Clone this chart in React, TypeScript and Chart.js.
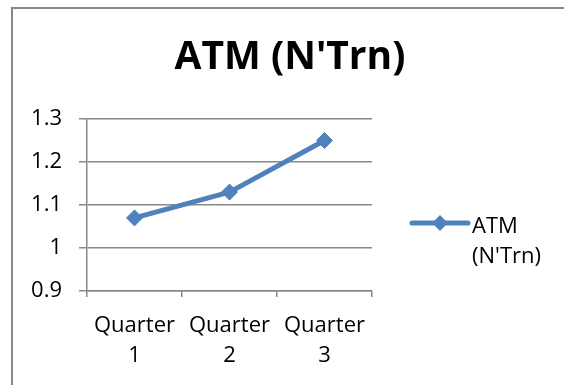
import React, { useEffect, useRef } from "react";
import { Chart, registerables } from "chart.js";

Chart.register(...registerables);

const titleText = "ATM (N'Trn)";
const categories = [
  ["Quarter", "1"],
  ["Quarter", "2"],
  ["Quarter", "3"],
];
const seriesLabel = "ATM (N'Trn)";
const atmValues = [1.07, 1.13, 1.25];
const yTicks = [0.9, 1.0, 1.1, 1.2, 1.3];

const BLUE = "#4F81BD";
const GRID = "#888888";
const FONT = "'Open Sans', sans-serif";

export default function App() {
  const ref = useRef<HTMLCanvasElement>(null);

  useEffect(() => {
    const canvas = ref.current;
    if (!canvas) return;

    const overlay = {
      id: "overlay",
      afterDraw(chart: any) {
        const { ctx, chartArea } = chart;
        ctx.save();
        // Title
        ctx.fillStyle = "#000";
        ctx.font = `bold 39px ${FONT}`;
        ctx.textAlign = "center";
        ctx.textBaseline = "alphabetic";
        ctx.fillText(titleText, 290, 69);

        // Legend
        const ds = chart.data.datasets[0];
        const lx = chartArea.right + 40;
        const ly = 223;
        ctx.strokeStyle = ds.borderColor;
        ctx.lineWidth = ds.borderWidth;
        ctx.lineCap = "round";
        ctx.beginPath();
        ctx.moveTo(lx, ly);
        ctx.lineTo(lx + 56, ly);
        ctx.stroke();
        const cx = lx + 28;
        const r = 8;
        ctx.fillStyle = ds.pointBackgroundColor;
        ctx.beginPath();
        ctx.moveTo(cx - r, ly);
        ctx.lineTo(cx, ly - r);
        ctx.lineTo(cx + r, ly);
        ctx.lineTo(cx, ly + r);
        ctx.closePath();
        ctx.fill();

        ctx.fillStyle = "#000";
        ctx.font = `22px ${FONT}`;
        ctx.textAlign = "left";
        const lines = String(ds.label).split(" ");
        lines.forEach((t: string, i: number) => {
          ctx.fillText(t, lx + 60, 233 + i * 30);
        });
        ctx.restore();
      },
    };

    const chart = new Chart(canvas, {
      type: "line",
      data: {
        labels: categories as any,
        datasets: [
          {
            label: seriesLabel,
            data: atmValues,
            borderColor: BLUE,
            backgroundColor: BLUE,
            borderWidth: 5,
            borderJoinStyle: "round",
            borderCapStyle: "round",
            tension: 0,
            pointStyle: "rectRot",
            pointRadius: 8,
            pointBackgroundColor: BLUE,
            pointBorderColor: BLUE,
            pointBorderWidth: 1,
            clip: false as any,
          },
        ],
      },
      options: {
        responsive: false,
        animation: false,
        layout: { padding: { top: 119, left: 27, right: 192, bottom: 14 } },
        plugins: {
          legend: { display: false },
          title: { display: false },
          tooltip: { enabled: false },
        },
        scales: {
          x: {
            type: "category",
            offset: true,
            grid: {
              display: true,
              drawOnChartArea: false,
              drawTicks: true,
              tickLength: 6,
              color: GRID,
              lineWidth: 1.5,
              offset: true,
            },
            border: { display: true, color: GRID, width: 1.5 },
            ticks: {
              color: "#000",
              font: { family: FONT, size: 22, lineHeight: 30 / 22 },
              padding: 14,
              maxRotation: 0,
              autoSkip: false,
            },
            afterFit: (s: any) => {
              s.height = 80;
            },
          },
          y: {
            type: "linear",
            min: 0.9,
            max: 1.3,
            afterBuildTicks: (s: any) => {
              s.ticks = yTicks.map((v) => ({ value: v }));
            },
            grid: {
              color: GRID,
              lineWidth: 1.5,
              tickLength: 8,
              drawTicks: true,
            },
            border: { display: true, color: GRID, width: 1.5 },
            ticks: {
              color: "#000",
              font: { family: FONT, size: 22 },
              padding: 17,
              callback: (v: any) => String(Number(v)),
            },
            afterFit: (s: any) => {
              s.width = 60;
            },
          },
        },
      },
      plugins: [overlay],
    });

    return () => chart.destroy();
  }, []);

  return (
    <div style={{ position: "absolute", left: 0, top: 0, width: 564, height: 385, overflow: "hidden", background: "#fff" }}>
      <div
        style={{
          position: "absolute",
          left: 11,
          top: 7,
          width: 700,
          height: 500,
          borderTop: "2px solid #878787",
          borderLeft: "2px solid #878787",
        }}
      />
      <canvas ref={ref} width={564} height={385} style={{ position: "absolute", left: 0, top: 0 }} />
    </div>
  );
}
